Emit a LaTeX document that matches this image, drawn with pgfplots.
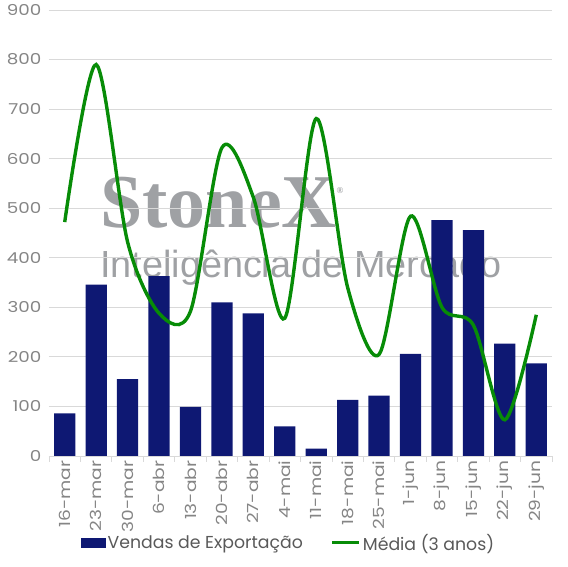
\documentclass[border=0pt]{standalone}
\usepackage{pgfplots}
\pgfplotsset{compat=1.18}
\usepackage{fontspec}
\setmainfont{Poppins}
\newfontfamily\tickfont[FakeStretch=1.22]{Poppins}
\newfontfamily\logofont{Liberation Serif}
\newfontfamily\wmfont{Liberation Sans}
\definecolor{navy}{HTML}{0E1873}
\definecolor{lgreen}{HTML}{078C07}
\definecolor{tickgray}{HTML}{858585}
\definecolor{gridgray}{HTML}{D9D9D9}
\definecolor{wm}{HTML}{9FA1A4}
\definecolor{legtext}{HTML}{595959}

\begin{document}
\begin{tikzpicture}
\path[use as bounding box] (-49pt,-111pt) rectangle (519pt,456pt);
% watermark, behind the axis
\node[anchor=base west, inner sep=0, text=wm, font=\logofont\bfseries\fontsize{76}{76}\selectfont] at (51pt,228pt) {StoneX\raisebox{34pt}{\fontsize{9}{9}\selectfont ®}};
\node[anchor=base west, inner sep=0, text=wm, font=\wmfont\fontsize{37.8}{38}\selectfont] at (51pt,178pt) {Inteligência de Mercado};
\begin{axis}[
  at={(0,0)}, anchor=south west,
  scale only axis, width=503pt, height=446pt,
  xmin=-0.5, xmax=15.5, ymin=0, ymax=900,
  ytick={0,100,...,900},
  xtick={0,...,15},
  xticklabels={16-mar,23-mar,30-mar,6-abr,13-abr,20-abr,27-abr,4-mai,11-mai,18-mai,25-mai,1-jun,8-jun,15-jun,22-jun,29-jun},
  minor xtick={-0.5,0.5,...,15.5},
  axis x line*=bottom, axis y line*=left,
  x axis line style={gridgray, line width=0.8pt, -},
  y axis line style={draw=none},
  major tick length=0pt,
  minor tick length=6pt,
  tick align=outside,
  minor x tick style={gridgray, line width=0.8pt},
  ymajorgrids,
  major grid style={gridgray, line width=0.8pt},
  /pgf/number format/assume math mode=true,
  y tick label style={font=\tickfont\fontsize{15}{15}\selectfont, text=tickgray, xshift=-4pt},
  x tick label style={rotate=90, anchor=east, font=\tickfont\fontsize{15.3}{15.3}\selectfont, text=tickgray, xshift=-1pt},
  legend style={at={(0.476,-0.195)}, anchor=center, draw=none, fill=none,
    font=\fontsize{17.3}{17.3}\selectfont, text=legtext, legend columns=2,
    /tikz/every even column/.append style={column sep=26pt},
    cells={anchor=west}, inner sep=0pt},
]
\addplot[ybar, bar width=21.3pt, fill=navy, draw=none,
  legend image code/.code={\fill[navy] (0pt,-5pt) rectangle (25pt,5pt);}]
  coordinates {(0,86) (1,346) (2,155) (3,363) (4,99) (5,310) (6,288) (7,60)
               (8,15) (9,113) (10,122) (11,206) (12,476) (13,456) (14,227) (15,187)};
\addlegendentry{Vendas de Exportação}
\addplot[lgreen, line width=3.4pt, smooth, tension=0.5, mark=none,
  legend image code/.code={\draw[lgreen, line width=3pt] (0pt,0pt) -- (27pt,0pt);}]
  coordinates {(0,472) (1,790) (2,432) (3,288) (4,292) (5,622) (6,522) (7,278)
               (8,681) (9,340) (10,205) (11,484) (12,300) (13,264) (14,73) (15,285)};
\addlegendentry{Média (3 anos)}
\end{axis}
\end{tikzpicture}
\end{document}
